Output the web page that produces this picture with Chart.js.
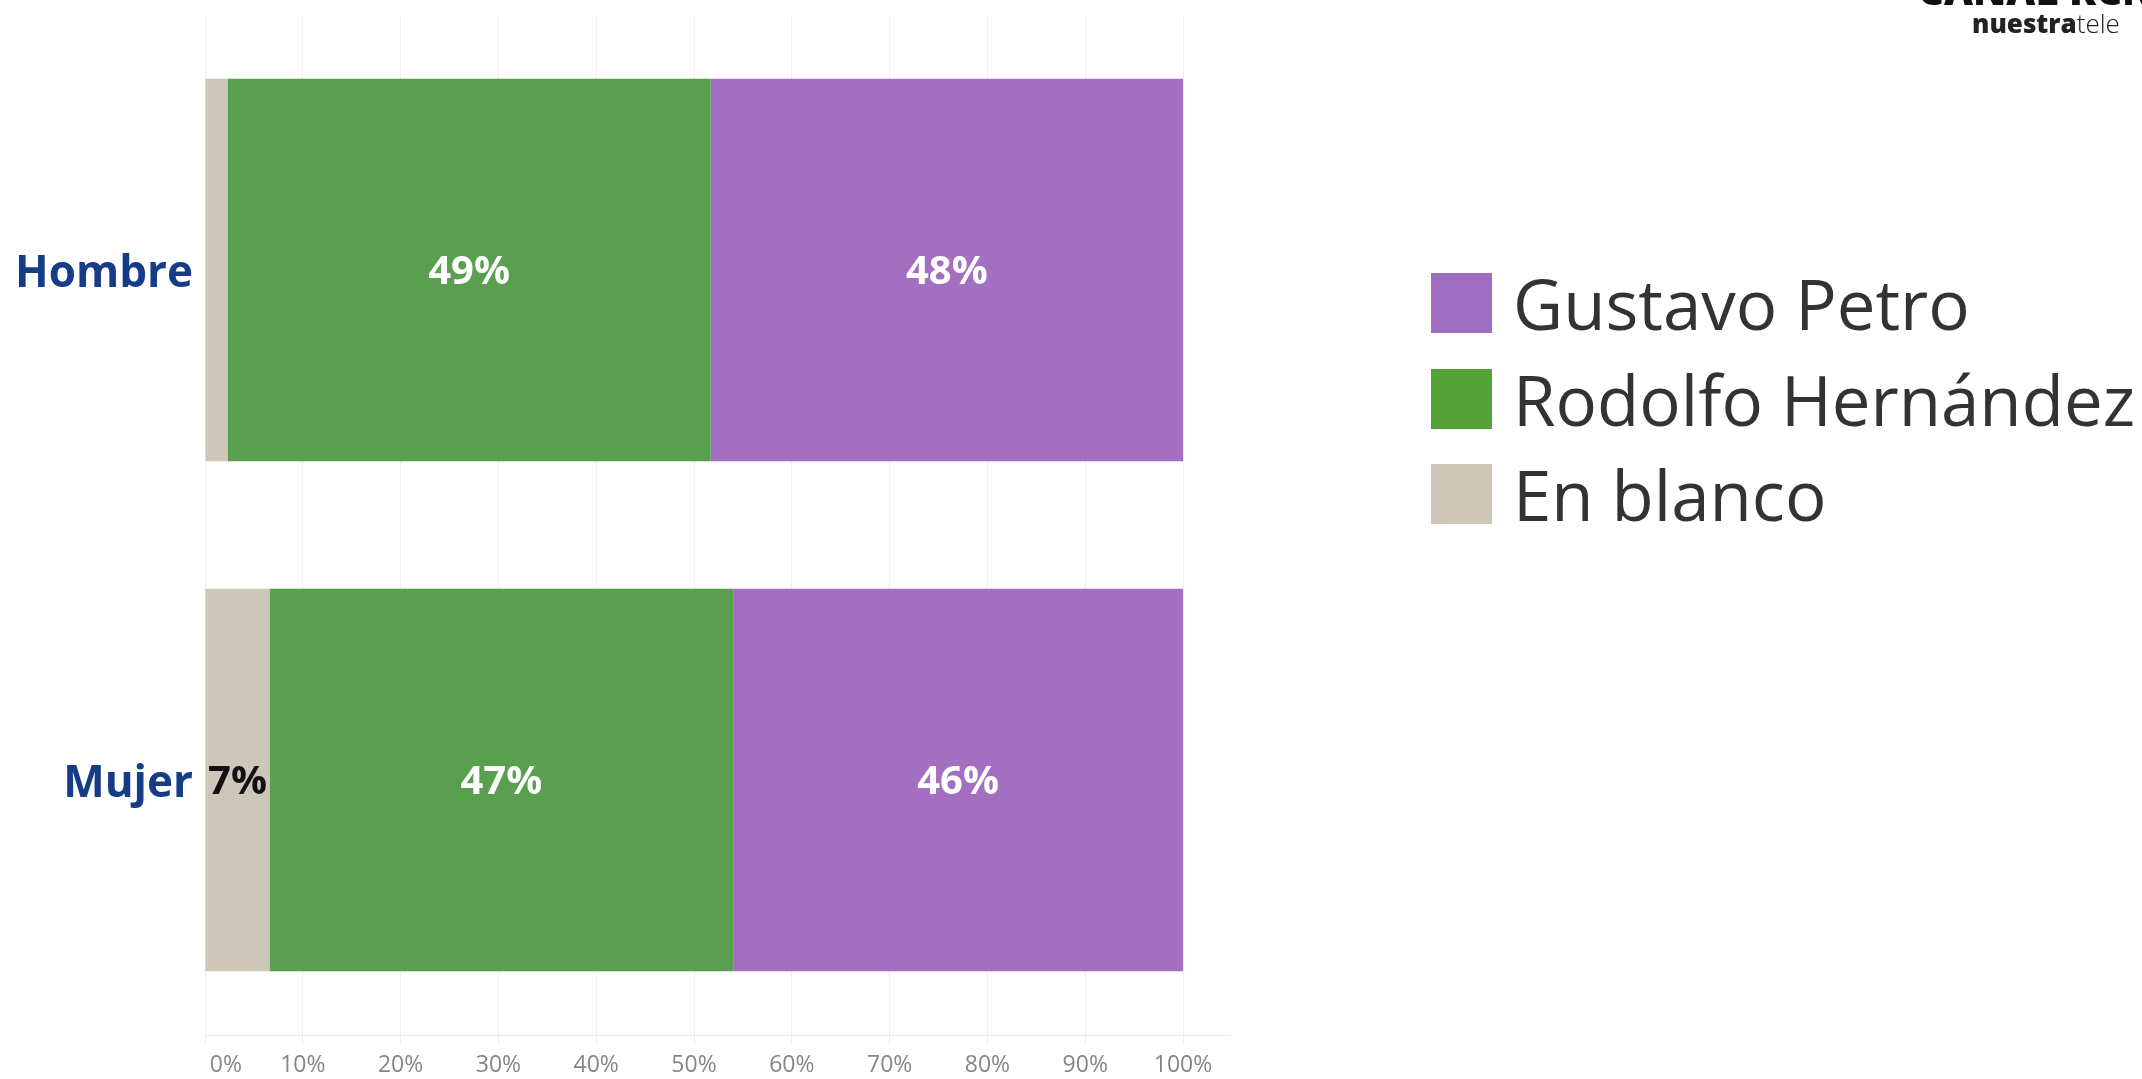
<!DOCTYPE html>
<html>
<head>
<meta charset="utf-8">
<script src="https://cdn.jsdelivr.net/npm/chart.js@4.4.0/dist/chart.umd.min.js"></script>
<style>
  body { margin: 0; background: #fff; overflow: hidden; font-family: 'Open Sans', sans-serif; }
  #wrap { position: absolute; left: 0; top: 0; width: 2142px; height: 1079px; }
  #legend { position: absolute; left: 1431px; top: 273px; }
  .item { display: flex; height: 60px; margin-bottom: 35.5px; }
  .swatch { width: 61px; height: 60px; }
  .txt { margin-left: 21px; font-size: 69px; line-height: 60px; color: #333; white-space: nowrap; }
  #logo1 { position: absolute; left: 1918px; top: -30px; font: 800 40px 'Open Sans'; line-height: 40px; color: #111; white-space: nowrap; }
  #logo2 { position: absolute; left: 1972px; top: 8px; font-size: 26px; line-height: 30px; color: #222; white-space: nowrap; }
</style>
</head>
<body>
<div id="wrap"><canvas id="chart" width="2142" height="1079"></canvas></div>
<div id="legend"></div>
<div id="logo1">CANAL RCN</div>
<div id="logo2"><b style="font-weight:800">nuestra</b><span style="font-weight:300">tele</span></div>
<script>
// data (percent of each group)
const categories = ['Hombre', 'Mujer'];
const seriesNames = ['En blanco', 'Rodolfo Hernández', 'Gustavo Petro'];
const enBlanco = [2.3, 6.6];
const rodolfo = [49.4, 47.4];
const petro = [48.3, 46.0];
const tickValues = [0, 10, 20, 30, 40, 50, 60, 70, 80, 90, 100];

const barColors = ['#cec6b9', '#5a9f4f', '#a36fc1'];
const legendColors = ['#cfc7b8', '#55a239', '#a06ec0'];
const labelColors = ['#111', '#fff', '#fff'];

// values inside the bars
const barLabels = {
    id: 'barLabels',
    afterDatasetsDraw(chart) {
        const ctx = chart.ctx;
        ctx.save();
        ctx.font = 'bold 40px "Open Sans"';
        ctx.textAlign = 'center';
        ctx.textBaseline = 'middle';
        chart.data.datasets.forEach((ds, i) => {
            chart.getDatasetMeta(i).data.forEach((bar, j) => {
                const v = ds.data[j];
                if (v < 5) return;
                ctx.fillStyle = labelColors[i];
                ctx.fillText(Math.round(v) + '%', (bar.x + bar.base) / 2, bar.y + 3);
            });
        });
        ctx.restore();
    }
};

const ctx = document.querySelector('#chart').getContext('2d');
const chart = new Chart(ctx, {
    type: 'bar',
    data: {
        labels: categories,
        datasets: [
            { label: seriesNames[0], data: enBlanco, backgroundColor: barColors[0] },
            { label: seriesNames[1], data: rodolfo, backgroundColor: barColors[1] },
            { label: seriesNames[2], data: petro, backgroundColor: barColors[2] }
        ]
    },
    options: {
        indexAxis: 'y',
        responsive: false,
        animation: false,
        layout: { padding: { left: 0, top: 15, right: 912, bottom: 0 } },
        datasets: {
            bar: { categoryPercentage: 1, barPercentage: 0.75, borderWidth: 0 }
        },
        scales: {
            x: {
                stacked: true,
                min: 0,
                max: 104.8,
                afterBuildTicks(scale) {
                    scale.ticks = tickValues.map(v => ({ value: v }));
                },
                afterFit(scale) {
                    scale.height = 44;
                    scale.paddingLeft = 0;
                    scale.paddingRight = 0;
                },
                grid: { color: '#efefef', tickColor: '#efefef', tickLength: 10, drawTicks: true },
                border: { display: true, color: '#e9e9e9' },
                ticks: {
                    padding: 7,
                    color: '#868686',
                    font: { family: 'Open Sans', size: 23 },
                    maxRotation: 0,
                    autoSkip: false,
                    callback: (v) => v === 0 ? '       0%' : v + '%'
                }
            },
            y: {
                stacked: true,
                afterFit(scale) {
                    scale.width = 205;
                    scale.paddingTop = 0;
                    scale.paddingBottom = 0;
                },
                grid: { display: false, drawTicks: false, tickLength: 0 },
                border: { display: false },
                ticks: {
                    padding: 12,
                    labelOffset: 4,
                    color: '#163c88',
                    font: { family: 'Open Sans', size: 44, weight: 'bold' }
                }
            }
        },
        plugins: {
            legend: { display: false },
            tooltip: { enabled: false }
        }
    },
    plugins: [barLabels]
});

// legend at the right, last series first
const legend = document.querySelector('#legend');
chart.data.datasets.slice().reverse().forEach((ds) => {
    const i = chart.data.datasets.indexOf(ds);
    legend.innerHTML += `<div class="item"><div class="swatch" style="background:${legendColors[i]}"></div><div class="txt">${ds.label}</div></div>`;
});
</script>
</body>
</html>
